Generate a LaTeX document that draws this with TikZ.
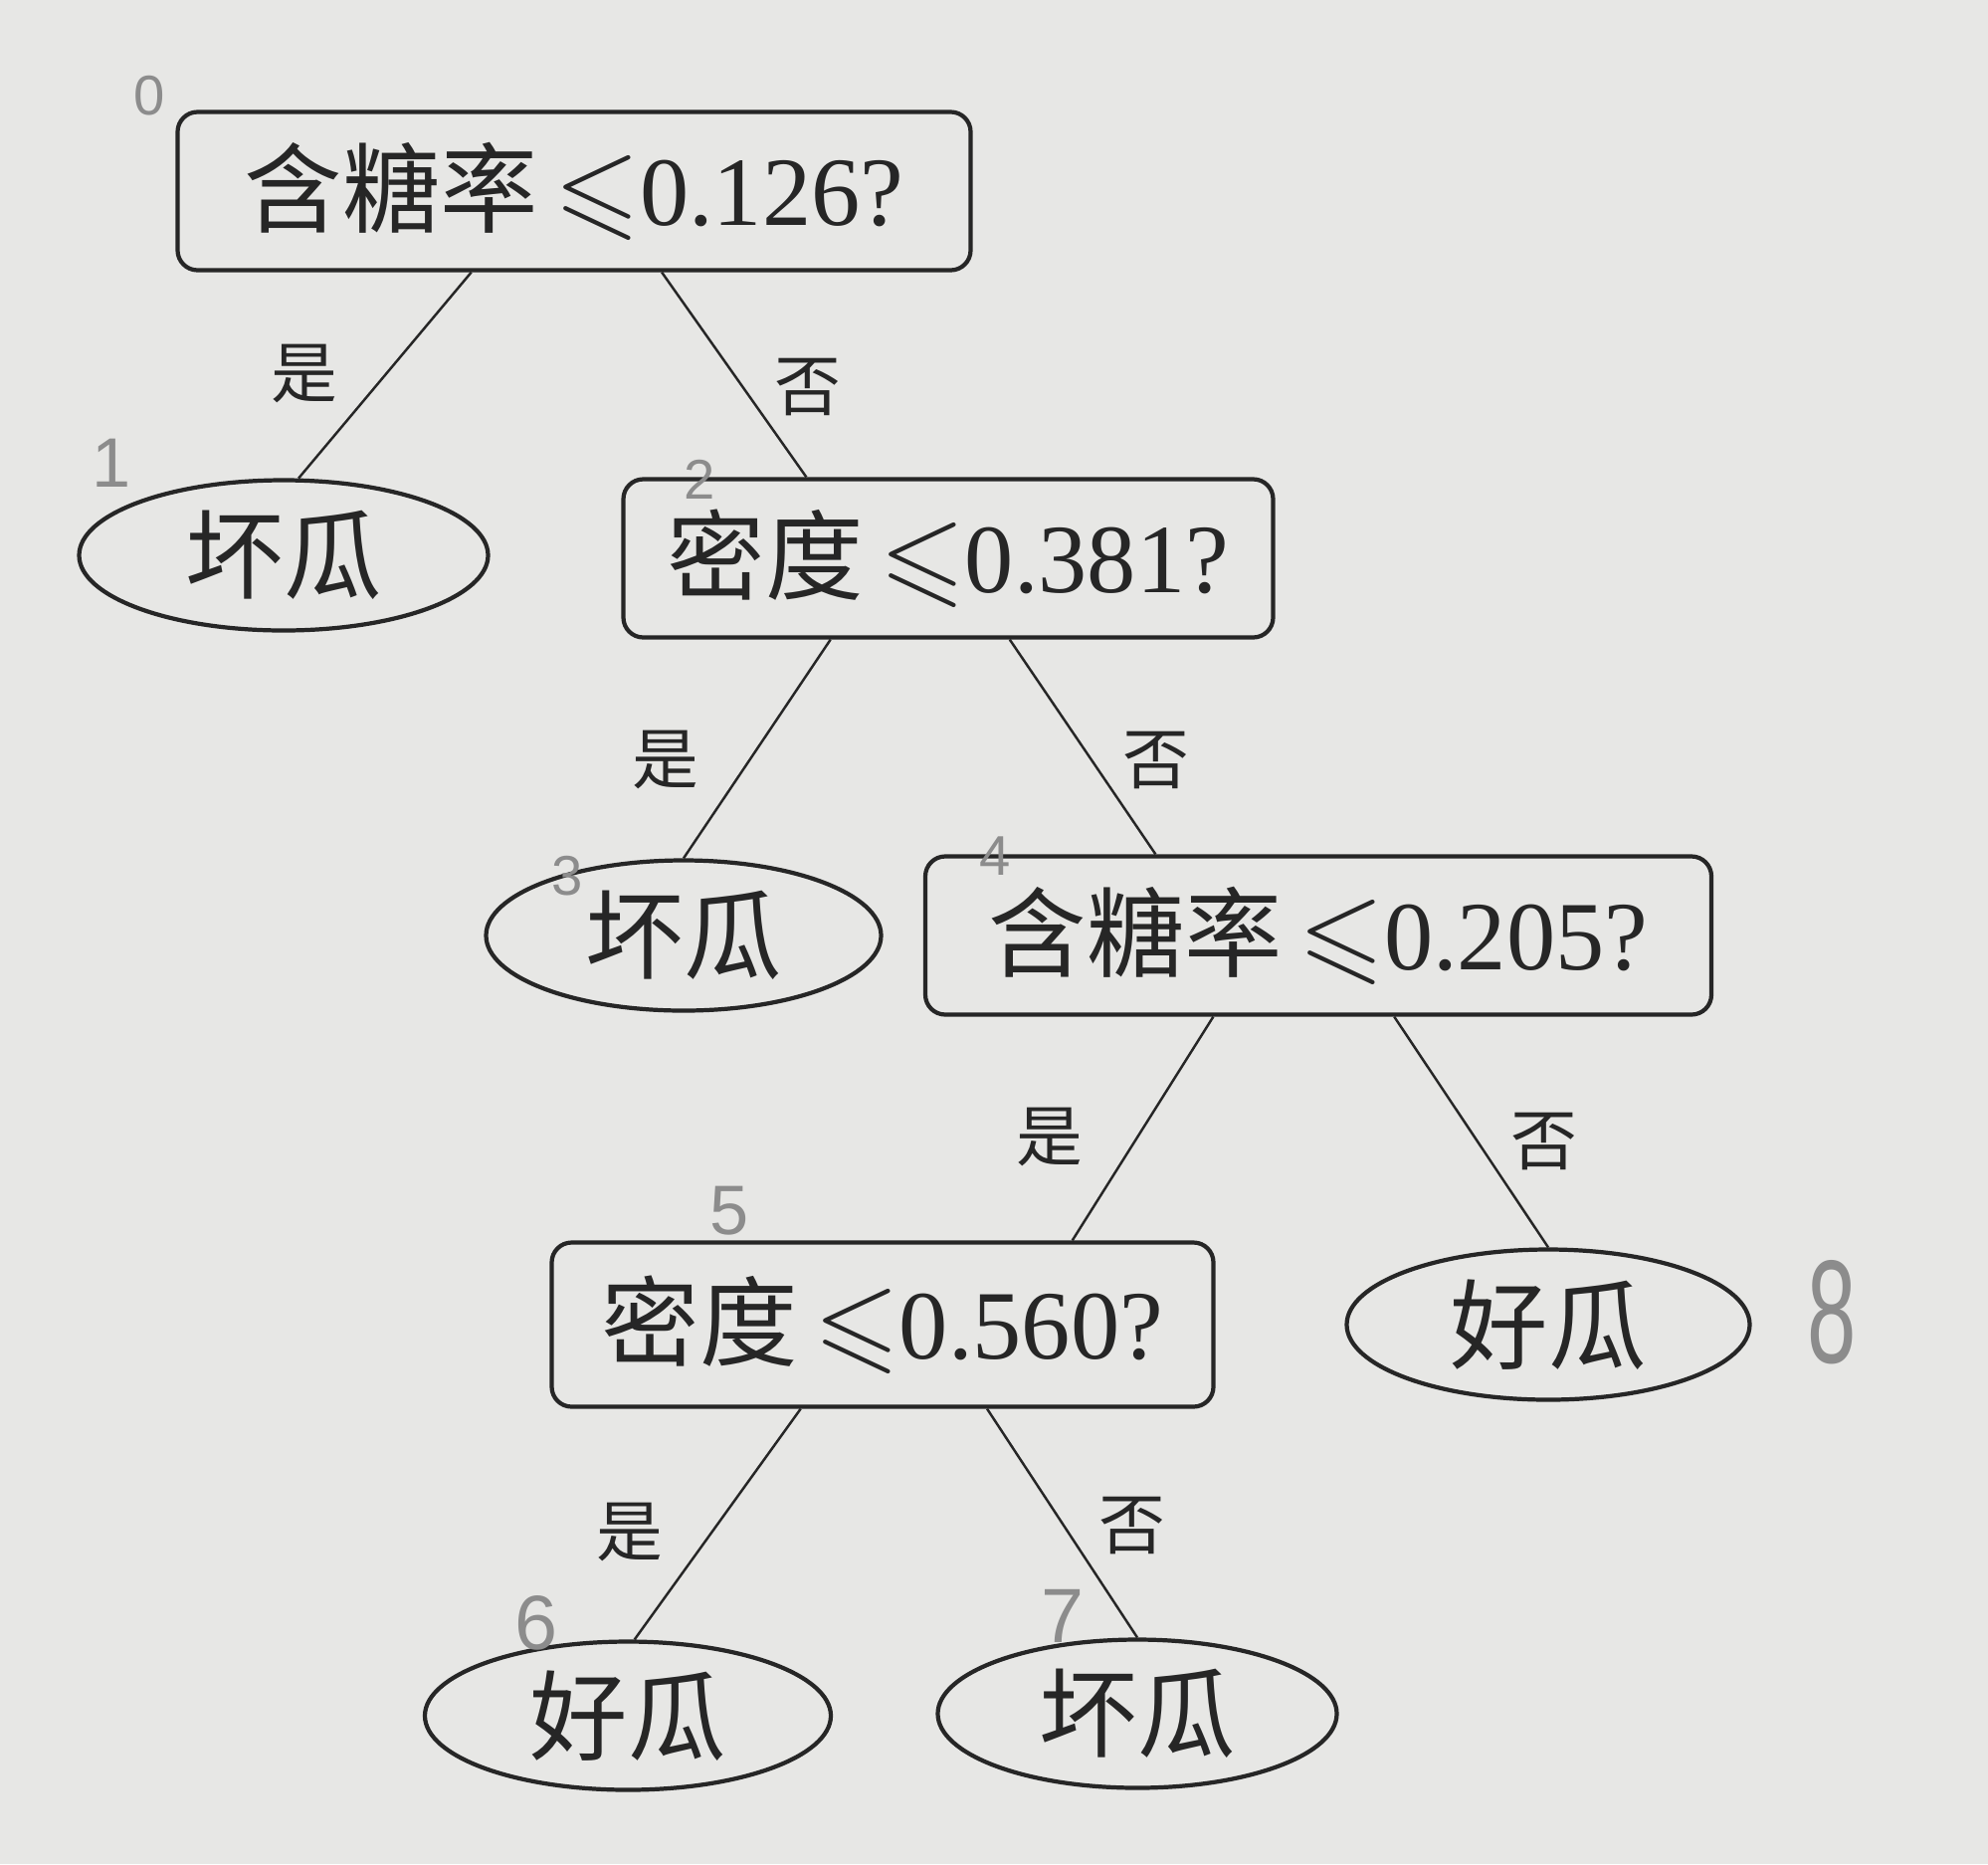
\documentclass[tikz,border=0pt]{standalone}
\usepackage{fontspec}
\usepackage{amssymb}
\setmainfont{Liberation Serif}
\newfontfamily\cjk{Noto Sans CJK SC}
\newfontfamily\hand{Liberation Sans}
\usetikzlibrary{shapes.geometric}
\usetikzlibrary{calc}
\definecolor{paper}{HTML}{E7E7E5}
\definecolor{ink}{HTML}{262626}
\definecolor{pencil}{HTML}{8C8C8C}
\newcommand{\lesym}{\,\scalebox{1.12}{$\leqslant$}}

\begin{document}
\begin{tikzpicture}[
    test/.style={rectangle,rounded corners=0.2cm,draw=ink,line width=1.2pt,minimum height=1.59cm,inner sep=0pt,text=ink,font=\fontsize{28}{32}\selectfont},
    leaf/.style={ellipse,draw=ink,line width=1.2pt,minimum width=4.05cm,minimum height=1.51cm,inner sep=0pt,text=ink,font=\cjk\fontsize{28}{32}\selectfont},
    branch/.style={draw=ink,line width=0.7pt},
    yes/.style={text=ink,font=\cjk\fontsize{19}{22}\selectfont},
    tag/.style={text=pencil,font=\hand\fontsize{16}{18}\selectfont}
    ]
    \useasboundingbox (0,0) rectangle (19.98,-18.73);
    \fill[paper] (0,0) rectangle (19.98,-18.73);
    % tests and leaves
    \node (root) [test,minimum width=7.97cm] at (5.77,-1.92) {{\cjk 含糖率}\lesym0.126?};
    \node (bad1) [leaf,minimum width=4.11cm] at (2.85,-5.58) {坏瓜};
    \node (dens1) [test,minimum width=6.53cm] at (9.53,-5.61) {{\cjk 密度}\lesym0.381?};
    \node (bad3) [leaf,minimum width=3.97cm] at (6.87,-9.40) {坏瓜};
    \node (sugar2) [test,minimum width=7.90cm] at (13.25,-9.40) {{\cjk 含糖率}\lesym0.205?};
    \node (dens2) [test,minimum width=6.65cm,minimum height=1.65cm] at (8.87,-13.31) {{\cjk 密度}\lesym0.560?};
    \node (good8) [leaf] at (15.56,-13.31) {好瓜};
    \node (good6) [leaf,minimum width=4.08cm,minimum height=1.49cm] at (6.31,-17.24) {好瓜};
    \node (bad7) [leaf,minimum width=4.01cm,minimum height=1.49cm] at (11.43,-17.22) {坏瓜};
    % branches
    \draw[branch] ($(root.south west)!0.371!(root.south east)$) -- (bad1.79);
    \draw[branch] ($(root.south west)!0.61!(root.south east)$) -- ($(dens1.north west)!0.283!(dens1.north east)$);
    \draw[branch] ($(dens1.south west)!0.32!(dens1.south east)$) -- (bad3.north);
    \draw[branch] ($(dens1.south west)!0.594!(dens1.south east)$) -- ($(sugar2.north west)!0.294!(sugar2.north east)$);
    \draw[branch] ($(sugar2.south west)!0.367!(sugar2.south east)$) -- ($(dens2.north west)!0.785!(dens2.north east)$);
    \draw[branch] ($(sugar2.south west)!0.596!(sugar2.south east)$) -- (good8.north);
    \draw[branch] ($(dens2.south west)!0.377!(dens2.south east)$) -- (good6.85);
    \draw[branch] ($(dens2.south west)!0.657!(dens2.south east)$) -- (bad7.north);
    % branch labels
    \node (y1) [yes] at (3.06,-3.76) {是};
    \node (n1) [yes] at (8.12,-3.89) {否};
    \node (y2) [yes] at (6.69,-7.64) {是};
    \node (n2) [yes] at (11.62,-7.64) {否};
    \node (y3) [yes] at (10.55,-11.43) {是};
    \node (n3) [yes] at (15.52,-11.47) {否};
    \node (y4) [yes] at (6.33,-15.39) {是};
    \node (n4) [yes] at (11.38,-15.33) {否};
    % pencil numbers
    \node (t0) [tag] at (1.50,-0.96) {0};
    \node (t1) [tag,font=\hand\fontsize{20}{22}\selectfont] at (1.12,-4.65) {1};
    \node (t2) [tag] at (7.03,-4.82) {2};
    \node (t3) [tag] at (5.70,-8.80) {3};
    \node (t4) [tag] at (10.00,-8.60) {4};
    \node (t5) [tag,font=\hand\fontsize{20}{22}\selectfont] at (7.33,-12.17) {5};
    \node (t6) [tag,font=\hand\fontsize{22}{24}\selectfont] at (5.39,-16.31) {6};
    \node (t7) [tag,font=\hand\fontsize{22}{24}\selectfont] at (10.68,-16.24) {7};
    \node (t8) [tag,xscale=0.6,font=\hand\fontsize{42}{46}\selectfont] at (18.41,-13.19) {8};
  \end{tikzpicture}
\end{document}
